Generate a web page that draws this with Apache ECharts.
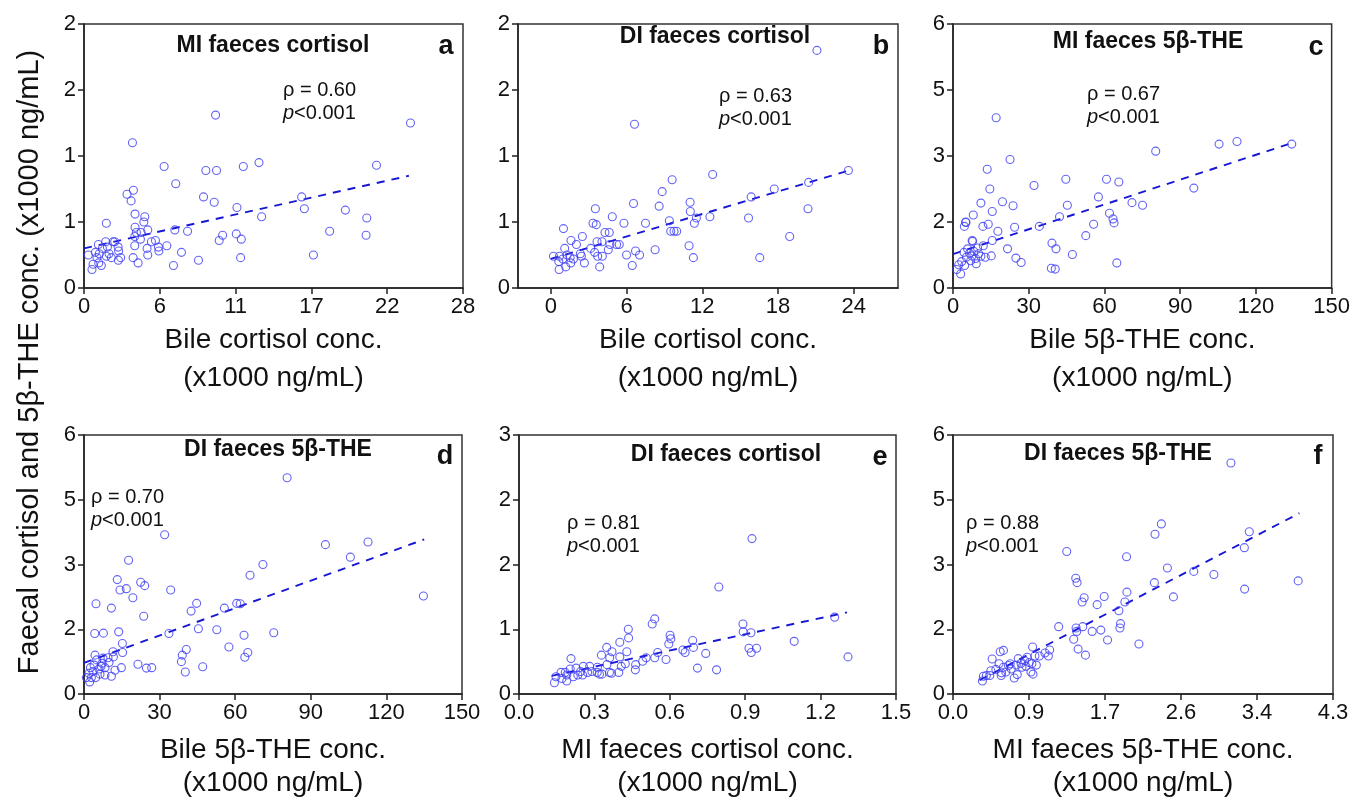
<!DOCTYPE html>
<html><head><meta charset="utf-8">
<script src="https://cdn.jsdelivr.net/npm/echarts@6/dist/echarts.min.js"></script>
<style>html,body{margin:0;padding:0;background:#fff}#c{width:1353px;height:801px}</style>
</head><body><div id="c"></div>
<script>
// ---------------- DATA ----------------
const ptsA = [[0.32,0.25],[0.59,0.14],[0.67,0.18],[0.84,0.27],[0.96,0.23],[1.06,0.33],[1.13,0.26],[1.09,0.19],[1.28,0.17],[1.36,0.30],[1.65,0.49],[1.60,0.35],[1.65,0.24],[1.73,0.31],[1.85,0.26],[2.02,0.23],[2.15,0.35],[2.27,0.35],[2.52,0.31],[2.56,0.28],[2.54,0.21],[2.71,0.23],[3.18,0.71],[3.48,0.66],[3.65,0.74],[3.58,1.10],[3.63,0.23],[3.75,0.32],[3.77,0.56],[3.77,0.46],[3.75,0.39],[3.87,0.42],[4.0,0.19],[4.17,0.37],[4.22,0.42],[4.42,0.50],[4.49,0.54],[4.71,0.44],[4.66,0.30],[4.71,0.25],[4.98,0.35],[5.28,0.36],[5.50,0.31],[5.53,0.28],[5.92,0.92],[6.12,0.32],[6.61,0.17],[6.71,0.44],[6.78,0.79],[7.2,0.27],[7.65,0.43],[8.46,0.21],[8.83,0.69],[9.0,0.89],[9.62,0.65],[9.72,1.31],[9.79,0.89],[9.99,0.36],[10.24,0.40],[11.25,0.41],[11.30,0.61],[11.57,0.23],[11.62,0.37],[11.77,0.92],[12.93,0.95],[13.12,0.54],[16.08,0.69],[16.28,0.60],[16.95,0.25],[18.15,0.43],[19.31,0.59],[20.89,0.53],[20.84,0.40],[21.61,0.93],[24.12,1.25]];
const ptsB = [[0.21,0.24],[0.63,0.20],[0.66,0.14],[0.68,0.24],[1.0,0.45],[0.95,0.22],[1.1,0.30],[1.18,0.16],[1.29,0.25],[1.53,0.23],[1.6,0.36],[1.58,0.19],[1.79,0.22],[2.03,0.33],[2.34,0.26],[2.5,0.39],[2.66,0.19],[2.42,0.24],[3.16,0.30],[3.34,0.49],[3.53,0.60],[3.6,0.48],[3.47,0.27],[3.66,0.35],[3.71,0.24],[3.87,0.16],[4.05,0.35],[4.08,0.24],[4.29,0.42],[4.63,0.42],[4.55,0.29],[4.68,0.33],[4.87,0.54],[5.21,0.33],[5.42,0.33],[5.79,0.49],[6.0,0.25],[6.45,0.17],[6.55,0.64],[6.63,1.24],[6.71,0.28],[7.03,0.25],[7.5,0.49],[8.26,0.29],[8.58,0.62],[8.82,0.73],[9.39,0.51],[9.5,0.43],[9.61,0.82],[9.76,0.43],[9.97,0.43],[10.95,0.32],[11.03,0.65],[11.05,0.58],[11.29,0.23],[11.37,0.49],[11.53,0.53],[12.6,0.54],[12.82,0.86],[15.66,0.53],[15.87,0.69],[16.55,0.23],[17.7,0.75],[18.92,0.39],[20.37,0.60],[20.42,0.80],[21.08,1.80],[23.57,0.89]];
const ptsC = [[1.46,0.42],[3.04,0.32],[2.26,0.53],[3.43,0.60],[4.62,0.51],[4.5,1.40],[5.13,1.49],[4.34,0.81],[5.29,0.70],[5.8,0.89],[6.6,0.79],[6.99,0.62],[7.78,1.06],[7.5,0.73],[8.29,0.83],[8.96,0.67],[9.2,0.55],[9.75,0.91],[10.14,0.78],[8.04,1.66],[11.05,0.72],[12.0,0.96],[11.84,1.40],[12.79,0.70],[13.97,1.45],[15.16,0.73],[15.55,1.08],[15.55,1.74],[11.05,1.93],[14.6,2.25],[17.77,1.29],[19.6,1.96],[21.6,0.89],[23.8,1.87],[24.9,0.68],[24.4,1.38],[27.0,0.58],[32.1,2.33],[34.2,1.40],[39.2,1.02],[38.96,0.45],[40.5,0.43],[40.8,0.89],[42.2,1.62],[45.3,1.88],[47.3,0.76],[52.6,1.19],[17.1,3.87],[22.6,2.92],[13.55,2.70],[5.0,1.50],[7.6,1.08],[44.7,2.47],[55.7,1.45],[57.6,2.07],[60.8,2.47],[62.0,1.70],[63.4,1.57],[63.8,1.48],[65.7,2.41],[64.9,0.57],[70.9,1.94],[75.1,1.88],[80.3,3.11],[95.4,2.27],[105.4,3.27],[112.5,3.33],[134.2,3.27]];
const ptsD = [[0.95,0.38],[2.26,0.28],[2.94,0.38],[1.98,0.48],[2.54,0.61],[4.64,0.38],[3.57,0.52],[3.97,0.67],[4.37,0.90],[5.04,0.79],[5.95,0.58],[6.75,0.64],[6.35,0.46],[7.54,0.83],[7.14,0.71],[8.33,0.61],[8.33,0.44],[9.52,0.84],[9.92,0.73],[10.87,0.41],[11.5,0.98],[12.3,0.55],[11.67,0.86],[14.84,0.61],[15.24,1.17],[15.3,0.96],[4.25,1.40],[7.7,1.41],[4.76,2.09],[10.87,1.99],[13.77,1.44],[19.4,2.23],[21.4,0.69],[23.7,1.80],[24.76,0.60],[26.87,0.61],[33.7,1.40],[38.65,0.75],[39.0,0.90],[40.6,1.03],[40.2,0.51],[42.5,1.92],[44.7,2.10],[45.4,1.51],[47.1,0.63],[52.7,1.49],[80.6,5.01],[32.0,3.69],[17.7,3.10],[13.2,2.65],[22.5,2.59],[24.1,2.51],[16.8,2.44],[14.3,2.41],[34.4,2.41],[55.7,1.99],[57.5,1.09],[60.6,2.10],[62.0,2.09],[63.5,1.36],[63.8,0.85],[65.0,0.96],[65.9,2.75],[71.0,3.00],[75.3,1.42],[95.8,3.46],[105.7,3.17],[112.7,3.52],[134.7,2.27]];
const ptsE = [[0.141,0.13],[0.147,0.20],[0.167,0.25],[0.171,0.18],[0.19,0.22],[0.19,0.15],[0.184,0.25],[0.207,0.41],[0.204,0.29],[0.216,0.20],[0.227,0.30],[0.234,0.22],[0.245,0.26],[0.253,0.22],[0.256,0.32],[0.273,0.25],[0.281,0.32],[0.29,0.26],[0.312,0.31],[0.311,0.25],[0.32,0.23],[0.33,0.23],[0.328,0.45],[0.349,0.54],[0.35,0.34],[0.361,0.42],[0.37,0.49],[0.36,0.25],[0.368,0.24],[0.397,0.25],[0.401,0.43],[0.401,0.60],[0.407,0.32],[0.423,0.35],[0.429,0.49],[0.436,0.65],[0.435,0.75],[0.464,0.34],[0.463,0.28],[0.492,0.38],[0.506,0.42],[0.54,0.42],[0.53,0.81],[0.54,0.87],[0.552,0.48],[0.585,0.40],[0.596,0.58],[0.601,0.68],[0.604,0.64],[0.652,0.51],[0.661,0.48],[0.691,0.62],[0.694,0.54],[0.71,0.30],[0.743,0.47],[0.786,0.28],[0.795,1.24],[0.891,0.81],[0.892,0.72],[0.923,0.71],[0.915,0.53],[0.924,0.48],[0.945,0.53],[0.927,1.80],[1.095,0.61],[1.256,0.89],[1.309,0.43]];
const ptsF = [[0.333,0.30],[0.344,0.41],[0.378,0.43],[0.416,0.43],[0.428,0.54],[0.443,0.81],[0.485,0.57],[0.522,0.70],[0.534,0.98],[0.571,1.01],[0.545,0.43],[0.549,0.49],[0.571,0.62],[0.598,0.51],[0.628,0.66],[0.647,0.70],[0.659,0.58],[0.693,0.37],[0.715,0.67],[0.727,0.45],[0.738,0.82],[0.769,0.71],[0.78,0.62],[0.81,0.77],[0.826,0.64],[0.84,0.85],[0.863,0.73],[0.882,0.51],[0.905,0.46],[0.893,0.70],[0.901,1.09],[0.927,0.88],[0.943,0.67],[0.977,0.88],[1.041,0.95],[1.079,0.88],[1.094,1.02],[1.196,1.56],[1.366,1.27],[1.393,1.53],[1.40,1.45],[1.416,1.04],[1.499,0.90],[1.468,1.56],[1.575,1.45],[3.145,5.35],[2.358,3.94],[2.286,3.70],[3.353,3.76],[1.287,3.30],[1.964,3.18],[3.297,3.39],[2.426,2.92],[2.725,2.84],[2.952,2.77],[3.906,2.62],[1.389,2.68],[1.404,2.58],[2.279,2.58],[3.3,2.43],[1.484,2.23],[1.461,2.13],[1.711,2.26],[1.631,2.07],[1.968,2.36],[1.945,2.13],[2.494,2.25],[1.877,1.93],[1.896,1.63],[1.889,1.53],[1.673,1.48],[1.749,1.25],[2.104,1.16]];

const trendA = [[0,0.30],[24,0.85]];
const trendB = [[0,0.22],[23.6,0.89]];
const trendC = [[0,0.77],[134,3.29]];
const trendD = [[0,0.72],[135,3.58]];
const trendE = [[0.13,0.21],[1.305,0.945]];
const trendF = [[0.3,0.32],[3.92,4.19]];

const xTickValsA = [0,5.6,11.2,16.8,22.4,28];   const xTickLblA = ['0','6','11','17','22','28'];
const xTickValsB = [0,6,12,18,24];              const xTickLblB = ['0','6','12','18','24'];
const xTickValsCD = [0,30,60,90,120,150];       const xTickLblCD = ['0','30','60','90','120','150'];
const xTickValsE = [0,0.3,0.6,0.9,1.2,1.5];     const xTickLblE = ['0.0','0.3','0.6','0.9','1.2','1.5'];
const xTickValsF = [0,0.86,1.72,2.58,3.44,4.3]; const xTickLblF = ['0.0','0.9','1.7','2.6','3.4','4.3'];
const yTickValsAB = [0,0.5,1,1.5,2];            const yTickLblAB = ['0','1','1','2','2'];
const yTickValsCDF = [0,1.5,3,4.5,6];           const yTickLblCDF = ['0','2','3','5','6'];
const yTickValsE = [0,0.75,1.5,2.25,3];         const yTickLblE = ['0','1','2','2','3'];

const xRanges = [[0,28],[-2.6,27.5],[0,150],[0,150],[0,1.5],[0,4.3]];
const yRanges = [[0,2],[0,2],[0,6],[0,6],[0,3],[0,6]];

const panelTitles = ['MI faeces cortisol','DI faeces cortisol','MI faeces 5β-THE','DI faeces 5β-THE','DI faeces cortisol','DI faeces 5β-THE'];
const panelLetters = ['a','b','c','d','e','f'];
const rhoVals = ['0.60','0.63','0.67','0.70','0.81','0.88'];
const xNames = ['Bile cortisol conc.','Bile cortisol conc.','Bile 5β-THE conc.','Bile 5β-THE conc.','MI faeces cortisol conc.','MI faeces 5β-THE conc.'];
const unitLabel = '(x1000 ng/mL)';
const yTitle = 'Faecal cortisol and 5β-THE conc. (x1000 ng/mL)';

// ---------------- LAYOUT ----------------
const FONT = '"Liberation Sans", Arial, sans-serif';
const grids = [
  {left:84, top:24, width:379, height:264},
  {left:518, top:24, width:380, height:264},
  {left:953, top:24, width:380, height:264},
  {left:84, top:435, width:378, height:264},
  {left:519, top:435, width:377, height:264},
  {left:953, top:435, width:380, height:264}
];
const pts = [ptsA,ptsB,ptsC,ptsD,ptsE,ptsF];
const trends = [trendA,trendB,trendC,trendD,trendE,trendF];
const xTicks = [[xTickValsA,xTickLblA],[xTickValsB,xTickLblB],[xTickValsCD,xTickLblCD],[xTickValsCD,xTickLblCD],[xTickValsE,xTickLblE],[xTickValsF,xTickLblF]];
const yTicks = [[yTickValsAB,yTickLblAB],[yTickValsAB,yTickLblAB],[yTickValsCDF,yTickLblCDF],[yTickValsCDF,yTickLblCDF],[yTickValsE,yTickLblE],[yTickValsCDF,yTickLblCDF]];
const titlePos = [[273,46],[715,37],[1148,42],[278,450],[726,455],[1118,454]];
const letterPos = [[446,47],[881,47],[1316,48],[445,457],[880,458],[1318,457]];
const rhoPos = [[283,90],[719,96],[1087,94],[91,497],[567,523],[966,523]];

function lookup(vals, lbls){
  return function(v){
    for (let i=0;i<vals.length;i++) if (Math.abs(vals[i]-v) < 1e-6) return lbls[i];
    return '';
  };
}

const AXC = '#222';
const xAxes = [], yAxes = [], series = [], graphics = [];
for (let i=0;i<6;i++){
  const row2 = i >= 3;
  xAxes.push({
    type:'value', gridIndex:i, min:xRanges[i][0], max:xRanges[i][1],
    name: xNames[i] + '\n' + unitLabel, nameLocation:'middle', nameGap: row2 ? 40 : 33,
    nameTextStyle:{fontFamily:FONT, fontSize:28, color:'#111', lineHeight: row2 ? 33 : 38},
    axisLine:{show:true, onZero:false, lineStyle:{color:AXC, width:1.5}},
    axisTick:{show:true, inside:false, length:6, customValues:xTicks[i][0], lineStyle:{color:AXC, width:1.5}},
    axisLabel:{show:true, customValues:xTicks[i][0], formatter:lookup(xTicks[i][0], xTicks[i][1]), fontFamily:FONT, fontSize:22, color:'#111', margin:8, hideOverlap:false},
    splitLine:{show:false}
  });
  yAxes.push({
    type:'value', gridIndex:i, min:yRanges[i][0], max:yRanges[i][1],
    axisLine:{show:true, onZero:false, lineStyle:{color:AXC, width:1.5}},
    axisTick:{show:true, inside:false, length:6, customValues:yTicks[i][0], lineStyle:{color:AXC, width:1.5}},
    axisLabel:{show:true, customValues:yTicks[i][0], formatter:lookup(yTicks[i][0], yTicks[i][1]), fontFamily:FONT, fontSize:22, color:'#111', margin:8, hideOverlap:false},
    splitLine:{show:false}
  });
  series.push({
    type:'scatter', xAxisIndex:i, yAxisIndex:i, data:pts[i], symbol:'circle', symbolSize:8,
    itemStyle:{color:'rgba(255,255,255,0)', borderColor:'#3c3cf2', borderWidth:1.1},
    emphasis:{disabled:true}, z:3
  });
  series.push({
    type:'line', xAxisIndex:i, yAxisIndex:i, data:trends[i], symbol:'none', silent:true,
    lineStyle:{color:'#1717d6', width:1.9, type:[8,7]}, z:2
  });
  graphics.push({type:'text', x:titlePos[i][0], y:titlePos[i][1], style:{text:panelTitles[i], font:'bold 23px ' + FONT, fill:'#111', align:'center', verticalAlign:'middle'}});
  graphics.push({type:'text', x:letterPos[i][0], y:letterPos[i][1], style:{text:panelLetters[i], font:'bold 27px ' + FONT, fill:'#111', align:'center', verticalAlign:'middle'}});
  graphics.push({type:'text', x:rhoPos[i][0], y:rhoPos[i][1], style:{text:'ρ = ' + rhoVals[i], font:'20px ' + FONT, fill:'#111', align:'left', verticalAlign:'middle'}});
  graphics.push({type:'text', x:rhoPos[i][0], y:rhoPos[i][1] + 23, style:{text:'{i|p}<0.001', font:'20px ' + FONT, fill:'#111', align:'left', verticalAlign:'middle', rich:{i:{fontStyle:'italic', fontFamily:FONT, fontSize:20, fill:'#111'}}}});
}
graphics.push({type:'text', x:30, y:362, rotation:Math.PI/2, style:{text:yTitle, font:'29px ' + FONT, fill:'#111', align:'center', verticalAlign:'middle'}});

const chart = echarts.init(document.getElementById('c'), null, {renderer:'canvas'});
chart.setOption({
  animation:false,
  backgroundColor:'#fff',
  grid: grids.map(g => Object.assign({show:true, borderColor:'#333', borderWidth:1.5, backgroundColor:'transparent', containLabel:false}, g)),
  xAxis: xAxes,
  yAxis: yAxes,
  series: series,
  graphic: graphics
});
</script></body></html>
